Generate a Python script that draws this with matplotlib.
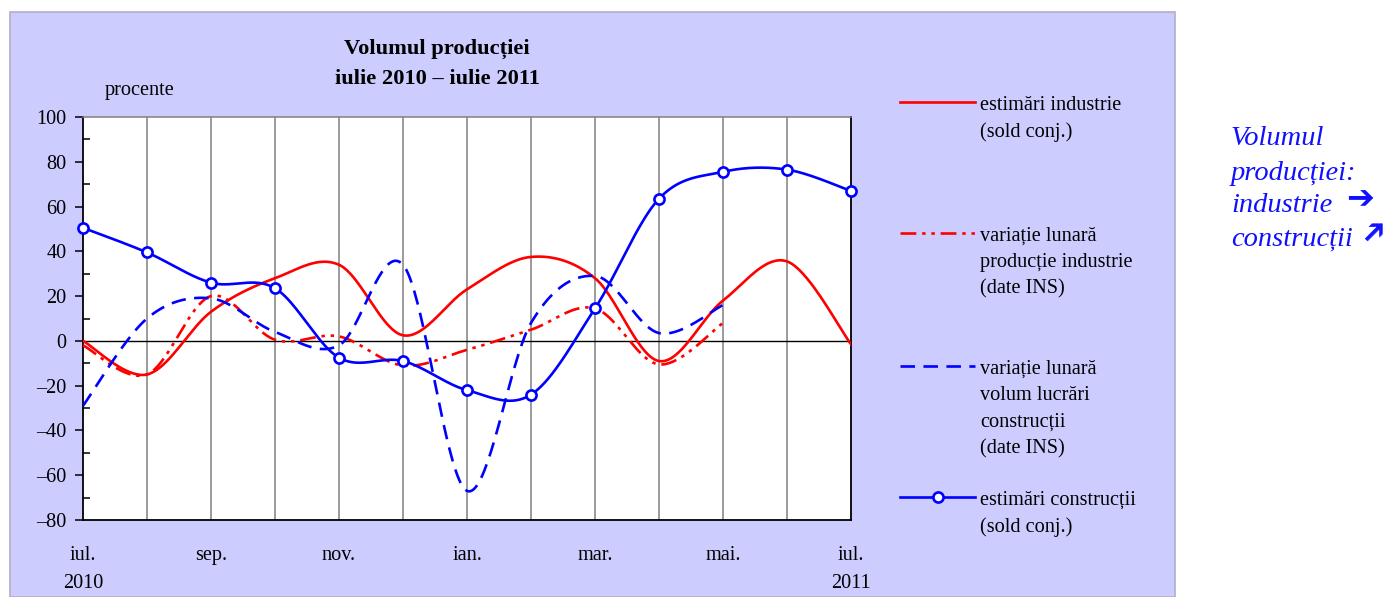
import numpy as np
import matplotlib
matplotlib.use("Agg")
import matplotlib.pyplot as plt
from matplotlib.lines import Line2D
from matplotlib.patches import Rectangle

plt.rcParams['font.family'] = ['Liberation Serif', 'DejaVu Sans']

# ---- data ----
months = list(range(13))  # iul 2010 .. iul 2011
tick_pos = [0, 2, 4, 6, 8, 10, 12]
tick_labels = ["iul.\n2010", "sep.", "nov.", "ian.", "mar.", "mai.", "iul.\n2011"]

ind_est = [0, -15, 13, 28, 34, 2.5, 23, 37.5, 28, -9, 18, 35.5, -1.5]
ind_ins = [-2, -15, 20, 0.5, 2, -11, -4, 5, 14.5, -10.5, 8]
con_ins = [-29, 10, 19, 4, -2, 34, -67, 8, 29, 3.5, 16]
con_est = [50.5, 39.5, 26, 23.5, -7.5, -9, -22, -24, 14.5, 63.5, 75.5, 76.5, 67]

labels = ["estimări industrie\n(sold conj.)",
          "variație lunară\nproducție industrie\n(date INS)",
          "variație lunară\nvolum lucrări\nconstrucții\n(date INS)",
          "estimări construcții\n(sold conj.)"]

note_lines = ["Volumul", "producției:", "industrie", "construcții"]

RED = "#FF0000"
BLUE = "#0000FF"
NOTE = "#1010FF"
FS = 14.6


def smooth(x, y, n=40):
    x = np.asarray(x, float)
    y = np.asarray(y, float)
    P = np.column_stack([x, y])
    Pp = np.vstack([P[0], P, P[-1]])
    out = []
    for i in range(len(P) - 1):
        p0, p1, p2, p3 = Pp[i], Pp[i + 1], Pp[i + 2], Pp[i + 3]
        c1 = p1 + (p2 - p0) / 6.0
        c2 = p2 - (p3 - p1) / 6.0
        t = np.linspace(0, 1, n, endpoint=(i == len(P) - 2))[:, None]
        seg = ((1 - t) ** 3) * p1 + 3 * ((1 - t) ** 2) * t * c1 + 3 * (1 - t) * t ** 2 * c2 + t ** 3 * p2
        out.append(seg)
    out = np.vstack(out)
    return out[:, 0], out[:, 1]


fig = plt.figure(figsize=(13.94, 5.97), dpi=100)
W, H = 1394, 597

# lavender panel
panel = Rectangle((10 / W, 0), (1175 - 10) / W, 1 - 12 / H,
                  transform=fig.transFigure, facecolor="#CCCCFF",
                  edgecolor="#B0B0C8", linewidth=1.2, zorder=-10)
fig.add_artist(panel)

ax = fig.add_axes([83 / W, 1 - 520 / H, (851 - 83) / W, (520 - 117) / H])
ax.set_zorder(1)
ax.set_facecolor("white")
ax.set_xlim(0, 12)
ax.set_ylim(-80, 100)

for m in months[1:-1]:
    ax.axvline(m, color="#808080", lw=1.1, zorder=1)
ax.axhline(0, color="black", lw=1.0, zorder=1)

dash_dot = (0, (6, 2.2, 1.3, 2.2, 1.3, 2.2))
dashed = (0, (5.5, 3.2))
lw = 1.9

xs, ys = smooth(months, ind_est)
ax.plot(xs, ys, color=RED, lw=lw, zorder=3)
xs, ys = smooth(months[:len(ind_ins)], ind_ins)
ax.plot(xs, ys, color=RED, lw=lw, linestyle=dash_dot, zorder=3)
xs, ys = smooth(months[:len(con_ins)], con_ins)
ax.plot(xs, ys, color=BLUE, lw=lw, linestyle=dashed, zorder=3)
xs, ys = smooth(months, con_est)
ax.plot(xs, ys, color=BLUE, lw=lw, zorder=4)
ax.plot(months, con_est, linestyle="none", marker="o", ms=7.3, mfc="white",
        mec=BLUE, mew=1.9, zorder=5, clip_on=False)

ax.set_yticks(np.arange(-80, 101, 20))
ax.set_yticklabels([("\u2013" + str(abs(v))) if v < 0 else str(v) for v in range(-80, 101, 20)])
ax.set_yticks(np.arange(-80, 101, 10), minor=True)
ax.tick_params(axis="y", which="major", direction="out", length=6, width=1.1,
               labelsize=FS, pad=6)
ax.tick_params(axis="y", which="minor", direction="in", length=5, width=1.1)
ax.set_xticks(tick_pos)
ax.set_xticklabels(tick_labels, linespacing=1.65)
ax.tick_params(axis="x", length=0, labelsize=FS, pad=19)

for s in ["left", "bottom", "right"]:
    ax.spines[s].set_color("black")
    ax.spines[s].set_linewidth(1.3)
ax.spines["top"].set_color("#808080")
ax.spines["top"].set_linewidth(1.1)

# title
fig.text(437 / W, 1 - 49 / H, "Volumul producției", ha="center", va="center",
         fontsize=16.2, fontweight="bold")
fig.text(437 / W, 1 - 79 / H, "iulie 2010 \u2013 iulie 2011", ha="center", va="center",
         fontsize=16.2, fontweight="bold")
fig.text(140 / W, 1 - 90 / H, "procente", ha="center", va="center", fontsize=FS)

# legend (manual)
leg_y = [102, 233, 366, 497]
styles = [dict(color=RED, lw=lw, linestyle="-"),
          dict(color=RED, lw=lw, linestyle=dash_dot),
          dict(color=BLUE, lw=lw, linestyle=dashed),
          dict(color=BLUE, lw=lw, linestyle="-")]
for yy, st, lab in zip(leg_y, styles, labels):
    fy = 1 - yy / H
    fig.add_artist(Line2D([900 / W, 975 / W], [fy, fy], transform=fig.transFigure, **st))
    fig.text(980 / W, 1 - (yy - 6) / H, lab, ha="left", va="top", fontsize=FS,
             linespacing=1.52)
fig.add_artist(Line2D([937.5 / W], [1 - 497 / H], transform=fig.transFigure,
                      marker="o", ms=7.3, mfc="white", mec=BLUE, mew=1.9, linestyle="none"))

# side note
for txt, yy in zip(note_lines, [139, 173, 206, 239]):
    fig.text(1231 / W, 1 - yy / H, txt, ha="left", va="center", fontsize=20.5,
             style="italic", color=NOTE)
fig.text(1360 / W, 1 - 199 / H, "\u2794", ha="center", va="center", fontsize=24,
         fontweight="bold", color=NOTE, family="DejaVu Sans")
fig.text(1375 / W, 1 - 232 / H, "\u2794", ha="center", va="center", fontsize=23,
         fontweight="bold", color=NOTE, family="DejaVu Sans", rotation=45,
         rotation_mode="anchor")

fig.savefig("out.png", dpi=100)
